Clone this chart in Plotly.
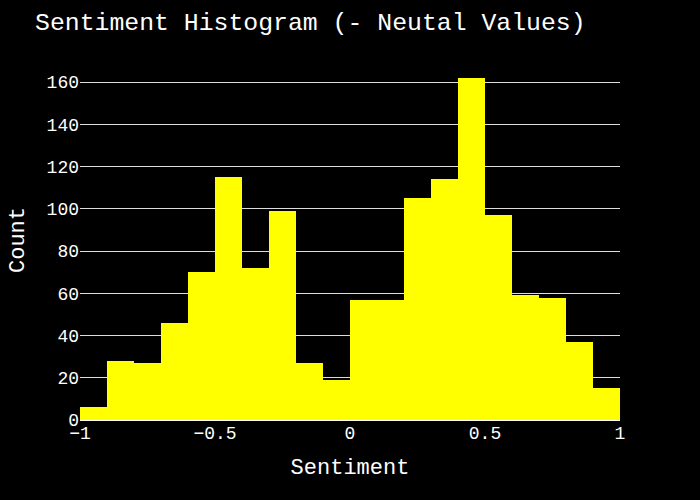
import plotly.graph_objects as go

# histogram bins (left edges, width 0.1) and counts
bin_starts = [-1.0, -0.9, -0.8, -0.7, -0.6, -0.5, -0.4, -0.3, -0.2, -0.1,
              0.0, 0.1, 0.2, 0.3, 0.4, 0.5, 0.6, 0.7, 0.8, 0.9]
counts = [6, 28, 27, 46, 70, 115, 72, 99, 27, 19,
          57, 57, 105, 114, 162, 97, 59, 58, 37, 15]
bin_size = 0.1

fig = go.Figure(go.Bar(x=bin_starts, y=counts, width=bin_size, offset=0,
                       marker=dict(color='yellow', line=dict(width=0))))

mono = "Courier New, Liberation Mono, monospace"
fig.update_layout(
    width=700, height=500,
    paper_bgcolor='black', plot_bgcolor='black',
    font=dict(family=mono, color='white', size=18),
    title=dict(text="Sentiment Histogram (- Neutal Values)", x=0.05,
               font=dict(size=24.8)),
    margin=dict(l=80, r=80, t=60, b=80),
    bargap=0,
    xaxis=dict(title=dict(text="Sentiment", font=dict(size=22)),
               range=[-1, 1], showgrid=False, zeroline=False),
    yaxis=dict(title=dict(text="Count", font=dict(size=22)),
               range=[0, 170.5], gridcolor='#dddddd', zeroline=True,
               zerolinecolor='white'),
)

# drop the page margin so the figure sits flush in the window
fig.write_html("out.html", config={'displayModeBar': False},
               post_script="document.body.style.margin='0';")
